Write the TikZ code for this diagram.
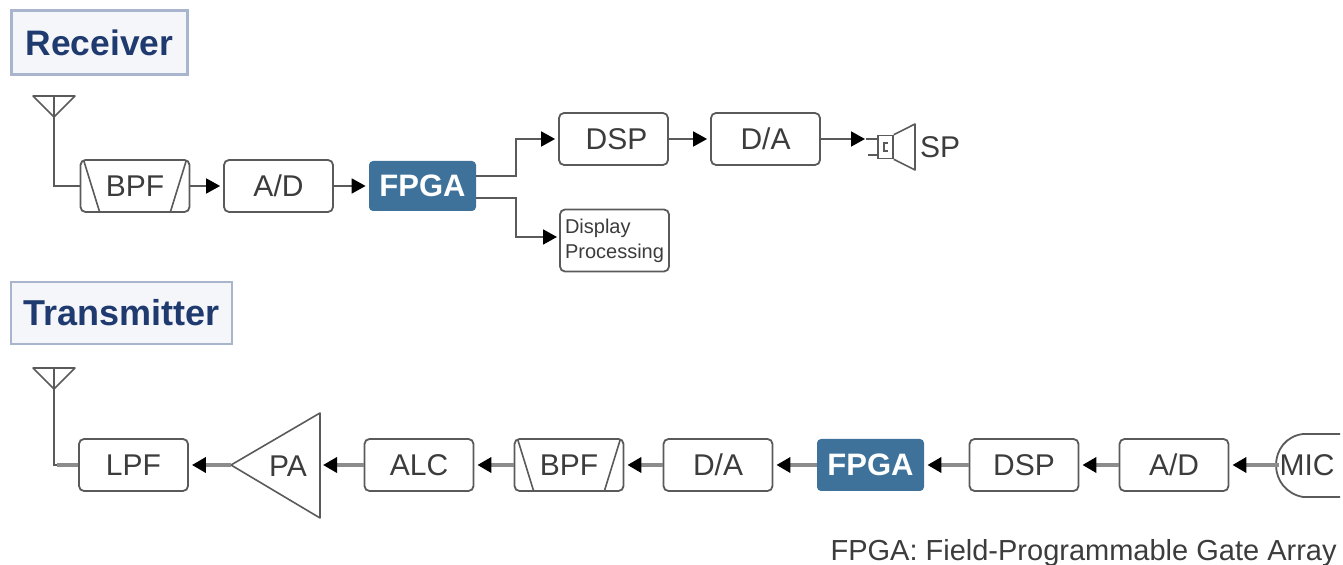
\documentclass[tikz,border=0pt]{standalone}
\usepackage{fontspec}
\setmainfont{Liberation Sans}
\usetikzlibrary{arrows.meta,calc}
\newcommand{\figuresize}{0.5pt}
\definecolor{linegray}{HTML}{5A5A5A}
\definecolor{flowgray}{HTML}{8C8C8C}
\definecolor{textgray}{HTML}{3C3C3C}
\definecolor{fpgablue}{HTML}{3F729B}
\definecolor{titleblue}{HTML}{1F3A6E}
\definecolor{titleedge}{HTML}{A9B5CC}
\definecolor{titlefill}{HTML}{F5F6FA}
\newcommand{\makeantenna}[3]{
	\coordinate (#1) at (#2,#3+21);
	\draw[wire, line join=round] (#2-21,#3) -- (#2+21,#3) -- (#1) -- cycle;
	\draw[wire] (#2,#3) -- (#1);
}
\newcommand{\makeslants}[1]{
	\draw[wire] ($(#1.north west)+(4,1)$) -- ($(#1.south west)+(20,-1)$);
	\draw[wire] ($(#1.north east)+(-4,1)$) -- ($(#1.south east)+(-20,-1)$);
}
\tikzset{
	wire/.style={draw=linegray, line width=0.8pt},
	block/.style={draw=linegray, line width=0.9pt, rounded corners=2.5pt, fill=white,
		minimum width=54.5pt, minimum height=26pt, inner sep=0pt, text=textgray,
		font=\fontsize{15}{15}\selectfont},
	fpgablock/.style={fill=fpgablue, rounded corners=2pt, minimum width=53.5pt,
		minimum height=25pt, inner sep=0pt, text=white,
		font=\fontsize{15.5}{15.5}\selectfont\bfseries},
	titlebox/.style={draw=titleedge, line width=1.1pt, fill=titlefill, inner sep=0pt,
		text=titleblue, font=\fontsize{17.7}{17.7}\selectfont\bfseries},
	label/.style={inner sep=0pt, text=textgray, font=\fontsize{15}{15}\selectfont},
	flow/.style={draw=linegray, line width=0.9pt, shorten >=1.5pt,
		-{Triangle[length=7pt,width=7.5pt,color=black]}},
	flowtx/.style={draw=flowgray, line width=1.9pt, shorten >=1.5pt,
		-{Triangle[length=7pt,width=7.5pt,color=black]}}
}

\begin{document}
\begin{tikzpicture}[x=\figuresize,y=-\figuresize]
	\useasboundingbox (0,0) rectangle (1343,565);

	% receiver
	\node[titlebox, minimum width=88pt, minimum height=32pt] (titlerx) at (99.5,42.5) {Receiver};
	\makeantenna{antrx}{54}{96}
	\node[block] (bpfrx) at (135,186) {\raisebox{-0.5pt}{BPF}};
	\node[block] (adrx) at (278.5,186) {\raisebox{-0.5pt}{A/D}};
	\node[fpgablock] (fpgarx) at (422.5,186) {\raisebox{-0.5pt}{FPGA}};
	\node[block] (dsprx) at (613.5,139) {\hspace*{3pt}DSP};
	\node[block] (darx) at (765.5,139) {D/A};
	\node[block, minimum height=31pt, align=left, font=\fontsize{10}{12.5}\selectfont] (disprx) at (614.5,240.5) {Display\\Processing};
	\node[label] (sprx) at (940,147) {SP};
	\makeslants{bpfrx}

	\coordinate (fpgaup) at (476,176);
	\coordinate (fpgadown) at (476,198);
	\coordinate (dispin) at (560,237);
	\draw[wire] (antrx) |- (bpfrx);
	\draw[flow] (bpfrx) -- (adrx);
	\draw[flow] (adrx) -- (fpgarx);
	\draw[flow] (fpgaup) -- ++(40,0) |- (dsprx);
	\draw[flow] (fpgadown) -- ++(40,0) |- (dispin);
	\draw[flow] (dsprx) -- (darx);
	\draw[flow] (darx) -- (868,139);

	% speaker
	\node[draw=linegray, line width=0.8pt, minimum width=7.5pt, minimum height=11.5pt, inner sep=0pt] (coil) at (885.5,147) {};
	\draw[wire, line join=round] (coil.north east) -- (915,124) -- (915,170) -- (coil.south east);
	\draw[wire] (866,139) -- (coil.west |- 866,139);
	\draw[wire] (868,155) -- (coil.west |- 868,155);
	\draw[wire] (888,143) -- (884,143) -- (884,151) -- (888,151);

	% transmitter
	\node[titlebox, minimum width=110.5pt, minimum height=31pt, font=\fontsize{18}{18}\selectfont\bfseries] (titletx) at (121.5,313) {\raisebox{-0.8pt}{Transmitter}};
	\makeantenna{anttx}{54}{368}
	\node[block] (lpftx) at (133.5,465) {LPF};
	\node[label] (patx) at (288,466) {PA};
	\draw[wire, line join=round] (231,465) -- (320,413) -- (320,518) -- cycle;
	\coordinate (pain) at (320,465);
	\coordinate (paout) at (231,465);
	\node[block] (alctx) at (419,465) {ALC};
	\node[block] (bpftx) at (569,465) {BPF};
	\node[block] (datx) at (718,465) {D/A};
	\node[fpgablock, minimum height=26pt] (fpgatx) at (870.5,465) {FPGA};
	\node[block] (dsptx) at (1024,465) {DSP};
	\node[block] (adtx) at (1174,465) {A/D};
	\node[label] (mictx) at (1307,465) {MIC};
	\draw[wire, line width=0.9pt] (1340,434) -- (1303,434) .. controls (1286,436) and (1276,450) .. (1276,465)
		.. controls (1276,480) and (1286,494) .. (1303,497) -- (1340,497);
	\makeslants{bpftx}

	\draw[wire] (anttx) |- (lpftx);
	\draw[flowtx, -] (lpftx) -- (anttx |- lpftx);
	\draw[flowtx] (paout) -- (lpftx);
	\draw[flowtx] (alctx) -- (pain);
	\draw[flowtx] (bpftx) -- (alctx);
	\draw[flowtx] (datx) -- (bpftx);
	\draw[flowtx] (fpgatx) -- (datx);
	\draw[flowtx] (dsptx) -- (fpgatx);
	\draw[flowtx] (adtx) -- (dsptx);
	\draw[flowtx] (mictx) -- (adtx);

	\node[label, anchor=east, font=\fontsize{14.5}{14.5}\selectfont] (note) at (1337,553) {FPGA: Field-Programmable Gate Array};
\end{tikzpicture}
\end{document}
